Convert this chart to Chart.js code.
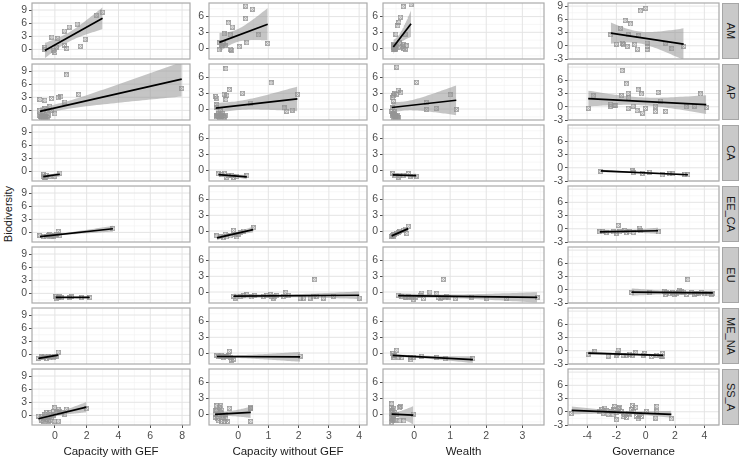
<!DOCTYPE html>
<html>
<head>
<meta charset="utf-8">
<script src="https://cdn.jsdelivr.net/npm/chart.js@4.4.1/dist/chart.umd.min.js"></script>
<style>
  body { margin: 0; background: #fff; width: 740px; height: 458px; overflow: hidden; position: relative;
         font-family: "Liberation Sans", Arial, sans-serif; }
  .cell { position: absolute; }
  .strip { position: absolute; background: #c9c9c9; border: 1px solid #a6a6a6; box-sizing: border-box; }
  .strip span { position: absolute; left: 50%; top: 50%; transform: translate(-50%, -50%) rotate(90deg);
                font-size: 11px; color: #1a1a1a; white-space: nowrap; }
  #ytitle { position: absolute; left: 8px; top: 214px; transform: translate(-50%, -50%) rotate(-90deg);
            font-size: 11px; color: #1a1a1a; white-space: nowrap; }
</style>
</head>
<body>
<div id="ytitle">Biodiversity</div>
<script>
// ── DATA ──────────────────────────────────────────────────────────────────────
const regions    = ['AM', 'AP', 'CA', 'EE_CA', 'EU', 'ME_NA', 'SS_A'];
const predictors = ['Capacity with GEF', 'Capacity without GEF', 'Wealth', 'Governance'];

// axis limits and tick labels, one entry per column
const xLimits = [[-1.44, 8.5], [-0.96, 4.26], [-0.86, 3.6], [-5.3, 5.0]];
const yLimits = [[-2.2, 10.6], [-2.1, 8.6], [-2.1, 8.6], [-3.0, 9.7]];
const xTicks  = [[0, 2, 4, 6, 8], [0, 1, 2, 3, 4], [0, 1, 2, 3], [-4, -2, 0, 2, 4]];
const yTicks  = [[0, 3, 6, 9], [0, 3, 6], [0, 3, 6], [-3, 0, 3, 6, 9]];

// points [x, biodiversity] per region and predictor
const AM_gef    = [[-0.63,0.46],[-0.63,0],[-0.19,2.8],[0.19,2.5],[-0.1,-0.2],[0,-0.7],[0.1,0.5],[0.6,4.2],[0.9,5.1],[1.4,5.8],[0.6,0.9],[0.75,0.2],[1.6,0.7],[1.9,2.3],[2.6,7.8],[3.0,8.5]];
const AM_nogef  = [[-0.62,-0.36],[-0.6,1.0],[-0.54,0.55],[-0.5,0.4],[-0.48,0.85],[-0.46,2.7],[-0.43,0.4],[-0.32,4.8],[-0.26,2.5],[-0.26,-0.2],[-0.21,-0.4],[-0.19,4.0],[0.04,0.25],[0.25,8.0],[0.25,5.6],[0.29,1.0],[0.47,7.4],[0.67,2.5],[0.98,0.85]];
const AM_wealth = [[-0.574,0.4],[-0.57,0.06],[-0.56,0.7],[-0.53,-0.25],[-0.5,2.65],[-0.45,4.25],[-0.42,4.9],[-0.38,5.9],[-0.41,1.0],[-0.37,0.06],[-0.3,7.9],[-0.25,2.65],[-0.25,-0.25],[-0.22,0.4],[-0.083,8.3],
                   [-0.565,0.1],[-0.56,-0.3],[-0.55,0.5],[-0.54,0.2],[-0.53,-0.1],[-0.52,0.3],[-0.51,-0.2],[-0.5,0.0],[-0.33,0.3],[-0.3,-0.1],[-0.28,0.6]];
const AM_gov    = [[-2.38,2.5],[-2.0,0.4],[-1.72,4.0],[-1.59,0.62],[-1.5,0.25],[-1.41,5.75],[-1.27,-0.15],[-1.2,2.5],[-1.04,4.95],[-0.75,0.25],[-0.56,-0.75],[-0.48,2.25],[-0.36,7.9],[0,8.5],[0.09,0.62],[0.09,-0.15],[0.09,-0.75],[1.36,0.62],[1.79,-0.65],[2.59,-0.15]];

const AP_gef    = [[-0.94,2.5],[-0.63,2.3],[-0.21,2.7],[-0.31,0.9],[-0.94,-1.15],[-0.83,-1.5],[-0.73,-1.4],[-0.56,-1.7],[-0.42,-1.15],[-0.63,0.4],[-0.52,0],[-0.21,0],[0,-0.8],[0.21,2.9],[0.38,3.1],[0.63,1.9],[0.73,8.1],[1.5,3.6],[7.98,5.0],[-0.94,0],[-0.73,-0.15],
                   [-0.9,-1.3],[-0.85,-1.6],[-0.8,-1.2],[-0.7,-1.6],[-0.65,-1.3],[-0.6,-1.5],[-0.5,-1.4],[-0.45,-1.6]];
const AP_nogef  = [[-0.74,2.4],[-0.7,2.1],[-0.7,0.83],[-0.7,0.3],[-0.7,-1.3],[-0.65,-1.5],[-0.59,-1.3],[-0.54,-1.3],[-0.48,-1.5],[-0.43,-1.3],[-0.46,2.8],[-0.4,1.8],[-0.37,2.6],[-0.29,3.7],[-0.4,7.7],[0.14,3.0],[0.4,1.1],[1.09,5.0],[1.52,0.2],[1.61,-0.45],[1.79,-0.2],[1.96,2.8],[-0.59,-0.3],
                   [-0.72,-1.5],[-0.68,-1.2],[-0.62,-1.6],[-0.56,-1.4],[-0.5,-1.2],[-0.45,-1.6],[-0.66,-0.9],[-0.52,-0.8]];
const AP_wealth = [[-0.59,2.15],[-0.57,1.5],[-0.59,0.2],[-0.57,-0.8],[-0.53,-1.4],[-0.48,-1.4],[-0.44,-1.6],[-0.56,2.5],[-0.53,2.9],[-0.48,2.8],[-0.44,3.6],[-0.37,3.1],[-0.48,8.0],[0.07,5.1],[0.35,1.2],[0.35,-0.1],[0.61,0.1],[1.0,2.7],[1.17,-0.1],[-0.62,-0.45],[-0.57,-1.1],
                   [-0.6,-1.2],[-0.58,-1.6],[-0.55,-1.0],[-0.52,-1.5],[-0.5,-1.2],[-0.47,-1.6],[-0.45,-1.3],[-0.6,-0.8],[-0.55,-0.5],[-0.5,-1.7]];
const AP_gov    = [[-3.92,-0.36],[-3.58,2.5],[-2.38,0.15],[-2.38,0.6],[-2.15,0.37],[-2.04,0.37],[-1.65,2.5],[-1.61,8.2],[-1.31,5.2],[-1.2,3.0],[-1.16,2.0],[-1.2,-0.36],[-0.86,0.15],[-0.59,-0.87],[-0.52,3.85],[-0.29,2.9],[-0.22,-1.45],[-0.02,-0.36],[0.66,0.15],[0.66,-1.1],[0.84,3.25],[1.0,1.3],[1.36,-1.1],[2.77,0],[3.33,0.15],[3.74,2.9],[4.13,-0.15]];

const CA_gef    = [[-0.73,-0.75],[-0.52,-1.0],[-0.63,-1.5],[-0.31,-1.1],[0,-1.1],[0.31,-0.4],[-0.73,-1.2],[-0.6,-1.3]];
const CA_nogef  = [[-0.65,-0.76],[-0.54,-0.89],[-0.46,-0.63],[-0.37,-1.4],[-0.32,-1.08],[-0.21,-1.08],[-0.15,-1.4],[-0.04,-1.2],[0.29,-1.08]];
const CA_wealth = [[-0.59,-0.7],[-0.53,-1.0],[-0.44,-1.35],[-0.39,-1.0],[-0.3,-1.0],[-0.16,-0.7],[-0.11,-1.15],[0.06,-1.15]];
const CA_gov    = [[-3.06,-0.85],[-0.93,-0.73],[-0.86,-1.04],[-0.22,-1.26],[0.27,-1.04],[1.13,-1.62],[1.63,-1.4],[1.86,-1.4],[2.65,-1.49],[2.88,-1.62]];

const EE_CA_gef    = [[-0.94,-0.74],[-0.73,-0.9],[-0.52,-1.04],[-0.42,-0.74],[-0.31,-0.52],[-0.21,-1.04],[-0.1,-0.9],[0,-0.74],[0.1,-0.52],[0.21,0.22],[0.31,-0.74],[3.65,0.83]];
const EE_CA_nogef  = [[-0.7,-0.95],[-0.59,-1.14],[-0.48,-1.27],[-0.43,-0.63],[-0.37,-1.14],[-0.26,-0.95],[-0.15,0.13],[-0.1,-0.76],[-0.04,-1.14],[0.01,-0.63],[0.07,-0.32],[0.17,0],[0.5,0.63]];
const EE_CA_wealth = [[-0.59,-0.81],[-0.57,-0.62],[-0.53,-0.62],[-0.48,-0.48],[-0.44,-0.36],[-0.39,-0.17],[-0.3,0.15],[-0.25,0.35],[-0.2,-0.48],[-0.16,0.92],[-0.62,-1.0],[-0.56,-1.0]];
const EE_CA_gov    = [[-3.13,-0.73],[-2.95,-0.73],[-2.67,-0.88],[-2.22,-0.73],[-1.99,-1.1],[-1.88,0.75],[-1.77,-0.73],[-1.43,-0.5],[-1.31,-0.88],[-1.09,-0.73],[-0.86,-0.88],[-0.41,0.15],[-0.34,-0.5],[0.84,-0.73]];

const EU_gef    = [[0.06,-0.74],[0.1,-1.2],[0.21,-0.97],[0.31,-0.74],[0.42,-0.97],[0.94,-0.97],[1.04,-0.74],[1.67,-0.97],[2.19,-0.97]];
const EU_nogef  = [[-0.15,-0.83],[-0.1,-1.15],[0.07,-0.83],[0.17,-0.7],[0.29,-0.5],[0.45,-0.95],[0.55,-0.7],[0.84,-0.83],[0.95,-0.7],[1.06,-0.5],[1.11,-0.83],[1.16,-1.15],[1.22,-0.95],[1.28,-0.7],[1.5,-0.83],[1.58,-0.07],[1.66,-0.7],[2.05,-1.15],[2.16,-1.15],[2.38,-1.15],[2.49,-0.95],[2.53,2.35],[2.59,-0.83],[2.82,-1.15],[3.15,-0.83],[4.0,-1.15]];
const EU_wealth = [[-0.44,-0.63],[-0.34,-0.83],[-0.25,-0.96],[-0.2,-1.08],[-0.16,-0.83],[-0.06,-0.96],[-0.02,-1.46],[0.03,-0.96],[0.17,-0.63],[0.21,-0.19],[0.26,-1.27],[0.44,0],[0.63,-0.31],[0.68,-1.08],[0.72,-1.27],[0.77,-0.96],[0.81,2.38],[0.86,-1.08],[0.91,-0.83],[0.95,-0.96],[1.14,-1.27],[1.6,-0.96],[2.02,-1.27],[2.56,-1.27],[3.41,-1.08]];
const EU_gov    = [[-0.97,-0.67],[0.27,-0.67],[1.29,-0.36],[1.36,-1.1],[1.41,-0.67],[1.63,-0.89],[1.82,-0.67],[1.97,-1.1],[2.13,-0.89],[2.27,-0.67],[2.31,-0.13],[2.43,-0.36],[2.59,-0.51],[2.77,-1.1],[2.88,2.3],[3.11,-0.67],[3.33,-1.1],[3.45,-0.89],[3.63,-0.89],[3.79,-0.67],[4.01,-0.89],[4.24,-0.89],[4.47,-1.1],[4.58,-0.89]];

const ME_NA_gef    = [[-1.04,-0.9],[-0.83,-0.52],[-0.73,-0.75],[-0.63,-0.38],[-0.52,-0.97],[-0.42,-0.52],[-0.31,-0.75],[-0.21,-0.38],[-0.1,-0.75],[0,-0.52],[0.21,0.52],[0.1,-0.38]];
const ME_NA_nogef  = [[-0.7,-0.44],[-0.65,-0.76],[-0.59,-0.63],[-0.54,-0.44],[-0.48,-0.88],[-0.43,-0.63],[-0.37,-0.76],[-0.32,-0.44],[-0.29,0.32],[-0.26,-0.88],[-0.21,-1.39],[-0.15,-1.26],[2.05,-0.63]];
const ME_NA_wealth = [[-0.59,-0.12],[-0.57,-0.44],[-0.56,-0.77],[-0.53,-0.44],[-0.48,0.52],[-0.44,-0.77],[-0.34,-0.88],[-0.11,-0.77],[-0.09,-1.27],[-0.02,-0.77],[0.21,-0.63],[0.63,-0.88],[0.86,-1.08],[1.63,-1.08]];
const ME_NA_gov    = [[-3.92,-0.75],[-3.47,-0.22],[-2.56,-1.19],[-1.99,-0.97],[-1.95,-0.59],[-1.88,0.13],[-1.54,-0.97],[-1.31,-0.97],[-1.09,-0.75],[-0.9,-0.97],[-0.68,-0.44],[-0.18,-0.97],[-0.07,-0.59],[0.39,-1.32],[0.73,-0.97],[1.07,-1.19],[1.13,-0.59],[1.18,-1.32]];

const SS_A_gef    = [[-1.04,-0.16],[-0.83,-0.3],[-0.83,-1.08],[-0.73,-1.32],[-0.63,-0.54],[-0.63,0.23],[-0.52,0.62],[-0.52,-0.93],[-0.42,-0.16],[-0.42,-1.32],[-0.31,0.62],[-0.21,0.23],[-0.21,-0.54],[-0.1,0],[-0.1,1.0],[0,1.78],[0,-1.32],[0.1,0.62],[0.21,1.4],[0.21,-1.32],[0.31,1.0],[0.42,0.62],[0.63,0.23],[0.73,1.4],[1.98,1.55],[-0.73,-0.77],[-0.31,-1.08]];
const SS_A_nogef  = [[-0.76,0],[-0.73,-0.65],[-0.7,0.63],[-0.68,-0.95],[-0.65,-1.28],[-0.62,1.26],[-0.59,0.3],[-0.57,1.58],[-0.54,0.76],[-0.54,-1.41],[-0.5,-0.32],[-0.48,-0.65],[-0.46,-1.41],[-0.43,0],[-0.4,-0.95],[-0.35,-1.41],[-0.29,1.1],[0.42,1.1],[0.42,-1.41],[-0.73,0.76],[-0.65,0],[-0.7,1.58],
                     [0.42,1.1],[0.4,1.2]];
const SS_A_wealth = [[-0.62,1.92],[-0.62,1.27],[-0.59,0.63],[-0.62,0.31],[-0.57,0],[-0.59,-0.33],[-0.62,-0.65],[-0.57,-0.96],[-0.59,-1.29],[-0.62,-1.61],[-0.56,0.96],[-0.53,0.31],[-0.56,-0.52],[-0.53,-1.15],[-0.41,1.15],[-0.37,1.4],[-0.39,-1.29],[-0.28,-1.29],[-0.02,0],[-0.48,0]];
const SS_A_gov    = [[-5.05,-0.4],[-3.13,0.08],[-3.01,0.46],[-2.9,-0.3],[-2.79,0.84],[-2.67,0.23],[-2.56,-0.53],[-2.33,0.08],[-2.22,-0.68],[-2.18,0.46],[-2.11,1.22],[-1.99,-0.07],[-1.99,-1.82],[-1.88,0.84],[-1.77,0.99],[-1.66,0.08],[-1.54,-1.06],[-1.43,-0.68],[-1.31,-1.29],[-1.2,-0.3],[-1.09,-0.68],[-0.97,0.46],[-0.9,1.44],[-0.82,0.08],[-0.68,0.99],[-0.63,-1.06],[-0.52,-1.59],[-0.41,-0.68],[-0.29,-1.06],[0.05,0.08],[0.68,-1.44],[0.77,1.22],[0.77,0.08],[1.75,-1.59]];

const panels = [
    [AM_gef, AM_nogef, AM_wealth, AM_gov],
    [AP_gef, AP_nogef, AP_wealth, AP_gov],
    [CA_gef, CA_nogef, CA_wealth, CA_gov],
    [EE_CA_gef, EE_CA_nogef, EE_CA_wealth, EE_CA_gov],
    [EU_gef, EU_nogef, EU_wealth, EU_gov],
    [ME_NA_gef, ME_NA_nogef, ME_NA_wealth, ME_NA_gov],
    [SS_A_gef, SS_A_nogef, SS_A_wealth, SS_A_gov],
];

// ── LAYOUT ────────────────────────────────────────────────────────────────────
const colLeft  = [32, 209, 383, 568];
const colRight = [190, 367, 544, 719];
const yAxisW   = [18, 18, 15, 22];
const rowTop   = [3, 64, 125, 186, 247, 308, 369];
const panelH   = 56;
const M        = 10;   // spare canvas margin so labels never shrink the plot area
const xAxisH   = 34;

const TICK_COLOR  = '#4d4d4d';
const GRID_MAJOR  = '#e4e4e4';
const GRID_MINOR  = '#f2f2f2';
const BORDER      = '#ababab';
const BAND        = 'rgba(150,150,150,0.55)';

// boxed-cross marker (ggplot shape 7)
function boxCross() {
    const c = document.createElement('canvas');
    c.width = 5; c.height = 5;
    const g = c.getContext('2d');
    g.strokeStyle = '#959595';
    g.lineWidth = 0.8;
    g.strokeRect(0.5, 0.5, 4, 4);
    g.beginPath();
    g.moveTo(0.5, 0.5); g.lineTo(4.5, 4.5);
    g.moveTo(4.5, 0.5); g.lineTo(0.5, 4.5);
    g.stroke();
    return c;
}
const marker = boxCross();

// ── LINEAR FIT (lm + 95% band, like geom_smooth) ──────────────────────────────
function tQuant(df) {
    const z = 1.959964;
    return z + (z ** 3 + z) / (4 * df) + (5 * z ** 5 + 16 * z ** 3 + 3 * z) / (96 * df * df)
             + (3 * z ** 7 + 19 * z ** 5 + 17 * z ** 3 - 15 * z) / (384 * df ** 3);
}

function linFit(pts) {
    const n = pts.length;
    const xbar = pts.reduce((s, p) => s + p[0], 0) / n;
    const ybar = pts.reduce((s, p) => s + p[1], 0) / n;
    let sxx = 0, sxy = 0;
    pts.forEach(p => { sxx += (p[0] - xbar) ** 2; sxy += (p[0] - xbar) * (p[1] - ybar); });
    const b = sxy / sxx;
    const a = ybar - b * xbar;
    let sse = 0;
    pts.forEach(p => { sse += (p[1] - a - b * p[0]) ** 2; });
    const s = Math.sqrt(sse / (n - 2));
    const xs = pts.map(p => p[0]);
    return { a, b, xbar, sxx, s, n, t: tQuant(n - 2), x0: Math.min(...xs), x1: Math.max(...xs) };
}

function minorOf(ticks, lo, hi) {
    const step = ticks[1] - ticks[0];
    const out = [];
    for (let v = ticks[0] - step / 2; v >= lo; v -= step) out.push(v);
    for (let v = ticks[0] + step / 2; v <= hi; v += step) out.push(v);
    return out;
}

// grid + border drawn from the tick arrays
const panelPlugin = {
    id: 'panel',
    beforeDatasetsDraw(chart) {
        const { ctx, chartArea: a, scales: { x, y } } = chart;
        ctx.save();
        const line = (color, w, x1, y1, x2, y2) => {
            ctx.strokeStyle = color; ctx.lineWidth = w;
            ctx.beginPath(); ctx.moveTo(x1, y1); ctx.lineTo(x2, y2); ctx.stroke();
        };
        const cfg = chart.options.plugins.panel;
        cfg.xMinor.forEach(v => { const p = x.getPixelForValue(v); line(GRID_MINOR, 0.6, p, a.top, p, a.bottom); });
        cfg.yMinor.forEach(v => { const p = y.getPixelForValue(v); line(GRID_MINOR, 0.6, a.left, p, a.right, p); });
        cfg.xMajor.forEach(v => { const p = x.getPixelForValue(v); line(GRID_MAJOR, 1, p, a.top, p, a.bottom); });
        cfg.yMajor.forEach(v => { const p = y.getPixelForValue(v); line(GRID_MAJOR, 1, a.left, p, a.right, p); });
        ctx.restore();
    },
    afterDatasetsDraw(chart) {
        const { ctx, chartArea: a } = chart;
        ctx.save();
        ctx.strokeStyle = BORDER;
        ctx.lineWidth = 1.2;
        ctx.strokeRect(a.left, a.top, a.right - a.left, a.bottom - a.top);
        ctx.restore();
    },
};

function makePanel(r, c) {
    const pts = panels[r][c];
    const bottomRow = r === regions.length - 1;
    const [xlo, xhi] = xLimits[c];
    const [ylo, yhi] = yLimits[c];
    // the 9 label only shows in the top row of the governance column
    const yMajor = yTicks[c].filter(v => v >= ylo && v <= yhi);
    const yLabels = (c === 3 && r > 0) ? yMajor.filter(v => v < 9) : yMajor;

    const w = colRight[c] - colLeft[c] + yAxisW[c] + M;
    const h = M + panelH + (bottomRow ? xAxisH : M);
    const div = document.createElement('div');
    div.className = 'cell';
    div.style.left = (colLeft[c] - yAxisW[c]) + 'px';
    div.style.top = (rowTop[r] - M) + 'px';
    div.style.width = w + 'px';
    div.style.height = h + 'px';
    const canvas = document.createElement('canvas');
    canvas.width = w; canvas.height = h;
    div.appendChild(canvas);
    document.body.appendChild(div);

    const f = linFit(pts);
    const upper = [], lower = [];
    for (let i = 0; i <= 40; i++) {
        const xv = f.x0 + (f.x1 - f.x0) * i / 40;
        const yv = f.a + f.b * xv;
        const half = f.t * f.s * Math.sqrt(1 / f.n + (xv - f.xbar) ** 2 / f.sxx);
        upper.push({ x: xv, y: yv + half });
        lower.push({ x: xv, y: yv - half });
    }
    const fitLine = [{ x: f.x0, y: f.a + f.b * f.x0 }, { x: f.x1, y: f.a + f.b * f.x1 }];

    new Chart(canvas, {
        type: 'scatter',
        data: {
            datasets: [
                { type: 'line', data: fitLine, borderColor: '#000', borderWidth: 1.7, pointRadius: 0, order: 0 },
                { type: 'line', data: upper, borderWidth: 0, pointRadius: 0, fill: '+1', backgroundColor: BAND, order: 1 },
                { type: 'line', data: lower, borderWidth: 0, pointRadius: 0, fill: false, order: 1 },
                { data: pts.map(p => ({ x: p[0], y: p[1] })), pointStyle: marker, pointRadius: 2.5, order: 2 },
            ],
        },
        options: {
            responsive: false,
            animation: false,
            events: [],
            layout: { padding: { top: M, right: M, bottom: bottomRow ? 0 : M, left: 0 } },
            plugins: {
                legend: { display: false },
                tooltip: { enabled: false },
                panel: {
                    xMajor: xTicks[c], xMinor: minorOf(xTicks[c], xlo, xhi),
                    yMajor: yMajor, yMinor: minorOf(yTicks[c], ylo, yhi),
                },
            },
            scales: {
                x: {
                    type: 'linear', min: xlo, max: xhi, display: bottomRow,
                    afterBuildTicks: s => { s.ticks = xTicks[c].map(v => ({ value: v })); },
                    afterFit: s => { if (bottomRow) s.height = xAxisH; },
                    grid: { display: true, drawOnChartArea: false, drawTicks: true, tickLength: 3, color: TICK_COLOR },
                    border: { display: false },
                    ticks: { color: TICK_COLOR, font: { family: 'Liberation Sans', size: 10.5 }, padding: 2,
                             maxRotation: 0, autoSkip: false, callback: v => String(v) },
                    title: { display: true, text: predictors[c], color: '#1a1a1a',
                             font: { family: 'Liberation Sans', size: 11.5 }, padding: { top: 2, bottom: 0 } },
                },
                y: {
                    type: 'linear', min: ylo, max: yhi,
                    afterBuildTicks: s => { s.ticks = yLabels.map(v => ({ value: v })); },
                    afterFit: s => { s.width = yAxisW[c]; },
                    grid: { display: true, drawOnChartArea: false, drawTicks: true, tickLength: 3, color: TICK_COLOR },
                    border: { display: false },
                    ticks: { color: TICK_COLOR, font: { family: 'Liberation Sans', size: 10.5 }, padding: 2,
                             autoSkip: false, callback: v => String(v) },
                },
            },
        },
        plugins: [panelPlugin],
    });
}

regions.forEach((reg, r) => {
    predictors.forEach((p, c) => makePanel(r, c));
    const strip = document.createElement('div');
    strip.className = 'strip';
    strip.style.left = '722px';
    strip.style.top = rowTop[r] + 'px';
    strip.style.width = '17px';
    strip.style.height = panelH + 'px';
    strip.innerHTML = `<span>${reg}</span>`;
    document.body.appendChild(strip);
});
</script>
</body>
</html>
